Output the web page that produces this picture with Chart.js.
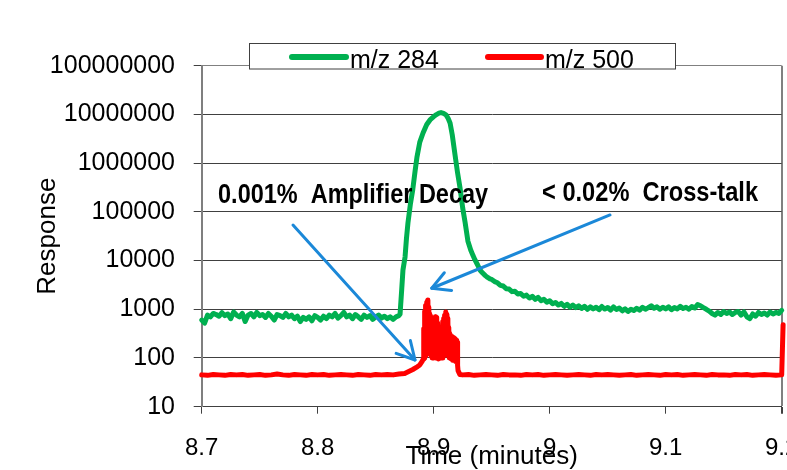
<!DOCTYPE html>
<html><head><meta charset="utf-8">
<script src="https://cdn.jsdelivr.net/npm/chart.js@4.4.1/dist/chart.umd.min.js"></script>
<style>html,body{margin:0;padding:0;background:#fff}canvas{display:block}</style>
</head><body>
<canvas id="c" width="787" height="470"></canvas>
<script>
// ---------- data ----------
const seriesNames = ['m/z 284', 'm/z 500'];
const xTicks = [8.7, 8.8, 8.9, 9.0, 9.1, 9.2];
const xTickLabels = ['8.7', '8.8', '8.9', '9', '9.1', '9.2'];
const yTicks = [10, 100, 1000, 10000, 100000, 1000000, 10000000, 100000000];
const yTickLabels = ['10', '100', '1000', '10000', '100000', '1000000', '10000000', '100000000'];
const xTitle = 'Time (minutes)';
const yTitle = 'Response';

// m/z 284 : [time, response]
const mz284Baseline = [
 [8.7000,600],[8.7025,520],[8.7050,760],[8.7075,700],[8.7100,820],[8.7125,780],[8.7150,720],[8.7175,850],
 [8.7200,740],[8.7225,800],[8.7250,640],[8.7275,880],[8.7300,760],[8.7325,700],[8.7350,820],[8.7375,560],
 [8.7400,760],[8.7425,820],[8.7450,700],[8.7475,860],[8.7500,740],[8.7525,780],[8.7550,680],[8.7575,820],
 [8.7600,720],[8.7625,600],[8.7650,780],[8.7675,740],[8.7700,680],[8.7725,820],[8.7750,700],[8.7775,760],
 [8.7800,640],[8.7825,720],[8.7850,560],[8.7875,680],[8.7900,620],[8.7925,700],[8.7950,580],[8.7975,740],
 [8.8000,680],[8.8025,600],[8.8050,720],[8.8075,640],[8.8100,760],[8.8125,700],[8.8150,820],[8.8175,660],
 [8.8200,740],[8.8225,860],[8.8250,700],[8.8275,760],[8.8300,640],[8.8325,780],[8.8350,700],[8.8375,620],
 [8.8400,760],[8.8425,680],[8.8450,740],[8.8475,620],[8.8500,700],[8.8525,760],[8.8550,660],[8.8575,720],
 [8.8600,640],[8.8625,700],[8.8650,620],[8.8675,700],[8.8700,740]
];
const mz284Peak = [
 [8.8710,800],[8.8724,2500],[8.8735,6400],[8.8753,11800],[8.8765,28000],[8.8778,59000],[8.8800,150000],
 [8.8819,281000],[8.8840,700000],[8.8856,1340000],[8.8880,2700000],[8.8908,4160000],[8.8940,6200000],
 [8.8968,7700000],[8.9000,9000000],[8.9020,9800000],[8.9045,10600000],[8.9063,10900000],[8.9085,10500000],
 [8.9106,9800000],[8.9125,8200000],[8.9141,6700000],[8.9160,3800000],[8.9184,1470000],[8.9205,650000],
 [8.9227,310000],[8.9250,120000],[8.9270,62000],[8.9295,25000],[8.9319,16500],[8.9340,12500],[8.9356,10300],
 [8.9380,8000],[8.9399,6400],[8.9420,5600],[8.9445,4900],[8.9465,4500],[8.9485,4200]
];
const mz284Tail = [
 [8.9500,4100],[8.9525,3700],[8.9550,3500],[8.9575,3100],[8.9600,3000],[8.9625,2650],[8.9650,2600],[8.9675,2300],
 [8.9700,2350],[8.9725,2050],[8.9750,2100],[8.9775,1850],[8.9800,1950],[8.9825,1700],[8.9850,1850],[8.9875,1600],
 [8.9900,1750],[8.9925,1500],[8.9950,1600],[8.9975,1400],[9.0000,1500],[9.0025,1300],[9.0050,1380],[9.0075,1220],
 [9.0100,1320],[9.0125,1150],[9.0150,1260],[9.0175,1100],[9.0200,1220],[9.0225,1080],[9.0250,1180],[9.0275,1040],
 [9.0300,1150],[9.0325,1000],[9.0350,1120],[9.0375,1020],[9.0400,1100],[9.0425,980],[9.0450,1140],[9.0475,1010],
 [9.0500,1090],[9.0525,960],[9.0550,1120],[9.0575,990],[9.0600,1060],[9.0625,930],[9.0650,1020],[9.0675,900],
 [9.0700,1000],[9.0725,940],[9.0750,1050],[9.0775,960],[9.0800,1100],[9.0825,1000],[9.0850,1080],[9.0875,1180],
 [9.0900,1050],[9.0925,1120],[9.0950,1000],[9.0975,1100],[9.1000,1020],[9.1025,1120],[9.1050,980],[9.1075,1080],
 [9.1100,1020],[9.1125,1150],[9.1150,1040],[9.1175,1100],[9.1200,1000],[9.1225,1140],[9.1250,1060],[9.1275,1250],
 [9.1300,1180],[9.1325,1080],[9.1350,1000],[9.1375,920],[9.1400,820],[9.1425,760],[9.1450,860],[9.1475,780],
 [9.1500,900],[9.1525,820],[9.1550,880],[9.1575,780],[9.1600,860],[9.1625,900],[9.1650,760],[9.1675,880],
 [9.1700,700],[9.1725,640],[9.1750,800],[9.1775,720],[9.1800,860],[9.1825,780],[9.1850,840],[9.1875,760],
 [9.1900,880],[9.1925,800],[9.1950,860],[9.1975,820],[9.2000,950]
];

// m/z 500 : [time, response]
const mz500Before = [
 [8.700,45],[8.705,44],[8.710,46],[8.715,45],[8.720,44],[8.725,46],[8.730,45],[8.735,46],[8.740,44],[8.745,45],
 [8.750,46],[8.755,44],[8.760,45],[8.765,47],[8.770,45],[8.775,44],[8.780,46],[8.785,45],[8.790,44],[8.795,46],
 [8.800,45],[8.805,46],[8.810,44],[8.815,45],[8.820,46],[8.825,45],[8.830,44],[8.835,46],[8.840,45],[8.845,44],
 [8.850,46],[8.855,45],[8.860,46],[8.865,45],[8.870,47],[8.875,48],[8.878,52],[8.882,58],[8.885,64],[8.888,72],[8.890,85]
];
const mz500Burst = [
 [8.8910,95],[8.8914,400],[8.8918,100],[8.8922,900],[8.8926,110],[8.8930,1200],[8.8934,120],[8.8938,1400],
 [8.8942,130],[8.8946,1500],[8.8950,1550],[8.8954,200],[8.8958,1100],[8.8962,150],[8.8966,800],[8.8970,120],
 [8.8974,720],[8.8978,110],[8.8982,600],[8.8986,100],[8.8990,560],[8.8994,110],[8.8998,620],[8.9002,100],
 [8.9006,660],[8.9010,110],[8.9014,700],[8.9018,100],[8.9022,680],[8.9026,110],[8.9030,520],[8.9034,100],
 [8.9038,450],[8.9042,95],[8.9046,400],[8.9050,100],[8.9054,380],[8.9058,100],[8.9062,400],[8.9066,110],
 [8.9070,450],[8.9074,100],[8.9078,560],[8.9082,110],[8.9086,650],[8.9090,120],[8.9094,750],[8.9098,130],
 [8.9102,850],[8.9106,880],[8.9110,140],[8.9114,780],[8.9118,120],[8.9122,650],[8.9126,110],[8.9130,420],
 [8.9134,100],[8.9138,320],[8.9142,100],[8.9146,290],[8.9150,95],[8.9154,280],[8.9158,95],[8.9162,270],
 [8.9166,90],[8.9170,260],[8.9174,90],[8.9178,250],[8.9182,90],[8.9186,240],[8.9190,85],[8.9194,230],
 [8.9198,85],[8.9202,210],[8.9206,70],[8.9210,55],[8.9225,46]
];
const mz500After = [
 [8.925,45],[8.930,46],[8.935,44],[8.940,45],[8.945,46],[8.950,45],[8.955,44],[8.960,46],[8.965,45],[8.970,45],
 [8.975,44],[8.980,46],[8.985,45],[8.990,46],[8.995,44],[9.000,45],[9.005,46],[9.010,45],[9.015,44],[9.020,45],
 [9.025,46],[9.030,45],[9.035,44],[9.040,46],[9.045,45],[9.050,46],[9.055,45],[9.060,44],[9.065,45],[9.070,46],
 [9.075,44],[9.080,45],[9.085,46],[9.090,45],[9.095,44],[9.100,46],[9.105,45],[9.110,46],[9.115,44],[9.120,45],
 [9.125,46],[9.130,45],[9.135,44],[9.140,46],[9.145,45],[9.150,45],[9.155,44],[9.160,46],[9.165,45],[9.170,46],
 [9.175,44],[9.180,45],[9.185,46],[9.190,45],[9.195,44],[9.200,45],[9.2012,480]
];

// annotations (data coordinates)
const noteTexts = ['0.001%  Amplifier Decay', '< 0.02%  Cross-talk'];
const noteAnchors = [[8.7141, 151000], [8.9934, 167000]];
const arrowFrom = [[8.7787, 53700], [9.0520, 86300]];
const arrowTo = [[8.8839, 91], [8.8983, 2700]];

// ---------- styles ----------
const GREEN = '#00B050', RED = '#FF0000', ARROW = '#1B88D8';
const FONT = '"Liberation Sans", Arial, Helvetica, sans-serif';
const NOTE_FONT = 'bold 28px "Liberation Sans", Arial, sans-serif';
const NOTE_WIDTHS = [270, 216];

const toXY = p => ({x: p[0], y: p[1]});
const green = mz284Baseline.concat(mz284Peak, mz284Tail).map(toXY);
const red = mz500Before.concat(mz500Burst, mz500After).map(toXY);

const overlay = {
  id: 'overlay',
  afterDatasetsDraw(chart) {
    const {ctx, scales: {x, y}} = chart;
    ctx.save();
    ctx.strokeStyle = ARROW; ctx.lineWidth = 3; ctx.lineCap = 'round'; ctx.lineJoin = 'round';
    for (let i = 0; i < arrowFrom.length; i++) {
      const x0 = x.getPixelForValue(arrowFrom[i][0]), y0 = y.getPixelForValue(arrowFrom[i][1]);
      const x1 = x.getPixelForValue(arrowTo[i][0]), y1 = y.getPixelForValue(arrowTo[i][1]);
      ctx.beginPath(); ctx.moveTo(x0, y0); ctx.lineTo(x1, y1); ctx.stroke();
      const a = Math.atan2(y1 - y0, x1 - x0), L = 20, H = 0.5;
      ctx.beginPath();
      ctx.moveTo(x1 - L * Math.cos(a - H), y1 - L * Math.sin(a - H));
      ctx.lineTo(x1, y1);
      ctx.lineTo(x1 - L * Math.cos(a + H), y1 - L * Math.sin(a + H));
      ctx.stroke();
    }
    ctx.fillStyle = '#000'; ctx.font = NOTE_FONT; ctx.textAlign = 'left'; ctx.textBaseline = 'alphabetic';
    for (let i = 0; i < noteTexts.length; i++) {
      const w = ctx.measureText(noteTexts[i]).width;
      ctx.save();
      ctx.translate(x.getPixelForValue(noteAnchors[i][0]), y.getPixelForValue(noteAnchors[i][1]));
      ctx.scale(NOTE_WIDTHS[i] / w, 1);
      ctx.fillText(noteTexts[i], 0, 0);
      ctx.restore();
    }
    ctx.restore();
  },
  afterDraw(chart) {
    const ctx = chart.ctx;
    ctx.save();
    ctx.fillStyle = '#fff';
    ctx.fillRect(249.5, 43.5, 426, 25.5);
    ctx.strokeStyle = '#404040'; ctx.lineWidth = 1;
    ctx.strokeRect(249.5, 43.5, 426, 25.5);
    const items = [[292, 346, 350], [488, 541, 545]];
    chart.data.datasets.forEach((ds, i) => {
      const [a, b, t] = items[i];
      ctx.strokeStyle = ds.borderColor; ctx.lineWidth = 6; ctx.lineCap = 'round';
      ctx.beginPath(); ctx.moveTo(a, 57); ctx.lineTo(b, 57); ctx.stroke();
      ctx.fillStyle = '#000'; ctx.font = '25px ' + FONT; ctx.textBaseline = 'alphabetic'; ctx.textAlign = 'left';
      ctx.fillText(ds.label, t, 67.5);
    });
    ctx.restore();
  }
};

Chart.defaults.font.family = FONT;
Chart.defaults.color = '#000';

new Chart(document.getElementById('c'), {
  type: 'scatter',
  data: {
    datasets: [
      {label: seriesNames[0], data: green, showLine: true, borderColor: GREEN, backgroundColor: GREEN,
       borderWidth: 5, pointRadius: 0, borderJoinStyle: 'round', borderCapStyle: 'round', clip: 6},
      {label: seriesNames[1], data: red, showLine: true, borderColor: RED, backgroundColor: RED,
       borderWidth: 5, pointRadius: 0, borderJoinStyle: 'round', borderCapStyle: 'round', clip: 6}
    ]
  },
  options: {
    responsive: false, animation: false, devicePixelRatio: 1,
    layout: {padding: {top: 65.7, right: 5.3, left: 0, bottom: 0}},
    plugins: {legend: {display: false}, tooltip: {enabled: false}},
    scales: {
      x: {
        type: 'linear', bounds: 'data',
        afterBuildTicks: s => {
          s.ticks = xTicks.map(v => ({value: v}));
          s.min = xTicks[0]; s.max = xTicks[xTicks.length - 1];
        },
        afterFit: s => { s.height = 63.3; s.paddingLeft = 0; s.paddingRight = 0; },
        ticks: {callback: (v, i) => xTickLabels[i], font: {size: 24}, padding: 20, maxRotation: 0, autoSkip: false},
        grid: {
          color: c => c.index === xTicks.length - 1 ? '#808080' : 'rgba(0,0,0,0)',
          lineWidth: c => c.index === xTicks.length - 1 ? 2 : 1,
          tickColor: '#404040', tickLength: 7
        },
        border: {display: true, color: '#404040', width: 1},
        title: {display: true, text: xTitle, font: {size: 26, lineHeight: 1}, padding: {top: 0, bottom: 0}}
      },
      y: {
        type: 'logarithmic', min: 10, max: 100000000,
        afterBuildTicks: s => { s.ticks = yTicks.map(v => ({value: v})); },
        afterFit: s => { s.width = 201.7; s.paddingTop = 0; s.paddingBottom = 0; },
        ticks: {callback: (v, i) => yTickLabels[i], font: {size: 25}, padding: 18.7, autoSkip: false},
        grid: {
          color: c => c.index === yTicks.length - 1 ? '#808080' : '#404040',
          lineWidth: 1, tickColor: '#404040', tickLength: 8
        },
        border: {display: true, color: '#7F7F7F', width: 2},
        title: {display: true, text: yTitle, font: {size: 26, lineHeight: 1}, padding: {top: 35, bottom: 0}}
      }
    }
  },
  plugins: [overlay]
});
</script>
</body></html>
